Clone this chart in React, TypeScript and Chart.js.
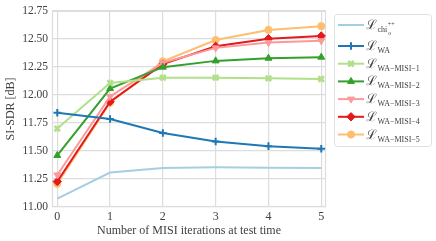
import React, { useEffect, useRef } from "react";
import { Chart, registerables } from "chart.js";
import { drawPoint } from "chart.js/helpers";

Chart.register(...registerables);

const iterations = [0, 1, 2, 3, 4, 5];
const yTicks = [11.0, 11.25, 11.5, 11.75, 12.0, 12.25, 12.5, 12.75];

const chiValues = [11.074, 11.307, 11.348, 11.354, 11.351, 11.348];
const waValues = [11.841, 11.785, 11.661, 11.584, 11.543, 11.52];
const misi1Values = [11.7, 12.107, 12.154, 12.154, 12.148, 12.142];
const misi2Values = [11.46, 12.057, 12.248, 12.304, 12.328, 12.337];
const misi3Values = [11.286, 11.986, 12.287, 12.42, 12.467, 12.484];
const misi4Values = [11.227, 11.94, 12.275, 12.434, 12.502, 12.526];
const misi5Values = [11.207, 11.93, 12.3, 12.49, 12.58, 12.614];

const legendSubs = ["chi", "WA", "WA\u2212MISI\u22121", "WA\u2212MISI\u22122", "WA\u2212MISI\u22123", "WA\u2212MISI\u22124", "WA\u2212MISI\u22125"];

const SERIF = "'Liberation Serif', 'DejaVu Serif', serif";
const TEXT = "#404040";
const GRID = "#dddddd";

type Series = { values: number[]; color: string; style: any; rotation: number; radius: number; bw: number };

const series: Series[] = [
  { values: chiValues, color: "#a6cee3", style: false, rotation: 0, radius: 0, bw: 2 },
  { values: waValues, color: "#1f78b4", style: "cross", rotation: 0, radius: 3.8, bw: 2 },
  { values: misi1Values, color: "#b2df8a", style: "crossRot", rotation: 0, radius: 3.8, bw: 2.8 },
  { values: misi2Values, color: "#33a02c", style: "triangle", rotation: 0, radius: 4, bw: 1 },
  { values: misi3Values, color: "#fb9a99", style: "triangle", rotation: 180, radius: 4, bw: 1 },
  { values: misi4Values, color: "#e31a1c", style: "rectRot", rotation: 0, radius: 4.2, bw: 1 },
  { values: misi5Values, color: "#fdbf6f", style: "circle", rotation: 0, radius: 3.6, bw: 1 },
];

const framePlugin = {
  id: "frame",
  beforeDatasetsDraw(chart: any) {
    const { ctx, chartArea: a } = chart;
    ctx.save();
    ctx.strokeStyle = GRID;
    ctx.lineWidth = 1.2;
    ctx.strokeRect(a.left + 0.5, a.top + 0.5, a.right - a.left - 1, a.bottom - a.top - 1);
    ctx.restore();
  },
};

const legendPlugin = {
  id: "customLegend",
  afterDraw(chart: any) {
    const { ctx, chartArea: a } = chart;
    const bx = a.right + 8;
    const by = 14;
    const bw = 97;
    const bh = 132;
    ctx.save();
    ctx.fillStyle = "rgba(255,255,255,0.9)";
    ctx.strokeStyle = "#e0e0e0";
    ctx.lineWidth = 1;
    ctx.beginPath();
    (ctx as any).roundRect(bx + 0.5, by + 0.5, bw, bh, 3);
    ctx.fill();
    ctx.stroke();
    chart.data.datasets.forEach((ds: any, i: number) => {
      const y = i === 0 ? 25 : 46 + (i - 1) * 17.7;
      const x1 = bx + 4;
      const x2 = bx + 30;
      ctx.strokeStyle = ds.borderColor;
      ctx.lineWidth = 2;
      ctx.beginPath();
      ctx.moveTo(x1, y);
      ctx.lineTo(x2, y);
      ctx.stroke();
      if (ds.pointStyle) {
        ctx.fillStyle = ds.pointBackgroundColor;
        ctx.strokeStyle = ds.pointBorderColor;
        ctx.lineWidth = ds.pointBorderWidth;
        drawPoint(ctx, { pointStyle: ds.pointStyle, rotation: ds.pointRotation, radius: ds.pointRadius, borderWidth: ds.pointBorderWidth }, (x1 + x2) / 2, y);
      }
      const tx = x2 + 2;
      ctx.fillStyle = TEXT;
      ctx.textBaseline = "alphabetic";
      ctx.textAlign = "left";
      ctx.font = `13px 'DejaVu Serif', serif`;
      ctx.fillText("\u2112", tx, y + 4);
      const lw = ctx.measureText("\u2112").width;
      ctx.font = `8px ${SERIF}`;
      const sub = legendSubs[i];
      ctx.fillText(sub, tx + lw + 0.5, y + 7);
      if (i === 0) {
        const sw = ctx.measureText(sub).width;
        ctx.font = `6px ${SERIF}`;
        ctx.fillText("++", tx + lw + sw + 1, y + 1);
        ctx.fillText("o", tx + lw + sw + 1.5, y + 10);
      }
    });
    ctx.restore();
  },
};

export default function App() {
  const ref = useRef<HTMLCanvasElement | null>(null);
  useEffect(() => {
    if (!ref.current) return;
    const chart = new Chart(ref.current, {
      type: "line",
      data: {
        datasets: series.map((s) => ({
          data: iterations.map((x, i) => ({ x, y: s.values[i] })),
          borderColor: s.color,
          backgroundColor: s.color,
          borderWidth: 2,
          pointStyle: s.style,
          pointRotation: s.rotation,
          pointRadius: s.radius,
          pointHoverRadius: s.radius,
          pointBorderWidth: s.bw,
          pointBackgroundColor: s.color,
          pointBorderColor: s.color,
          tension: 0,
          fill: false,
        })),
      },
      plugins: [framePlugin, legendPlugin],
      options: {
        animation: false,
        responsive: false,
        events: [],
        layout: { padding: { left: 0, right: 110, top: 9, bottom: 0 } },
        plugins: { legend: { display: false }, tooltip: { enabled: false } },
        scales: {
          x: {
            type: "linear",
            min: -0.1,
            max: 5.09,
            afterBuildTicks: (scale: any) => {
              scale.ticks = iterations.map((v) => ({ value: v }));
            },
            afterFit: (scale: any) => {
              scale.height = 34;
            },
            grid: { color: GRID, lineWidth: 1.2, drawTicks: false },
            border: { display: false },
            ticks: { color: TEXT, font: { family: SERIF, size: 12 }, padding: 3, maxRotation: 0 },
            title: { display: true, text: "Number of MISI iterations at test time", color: TEXT, font: { family: SERIF, size: 12 }, padding: { top: 0, bottom: 3 } },
          },
          y: {
            type: "linear",
            min: 11.0,
            max: 12.75,
            afterBuildTicks: (scale: any) => {
              scale.ticks = yTicks.map((v) => ({ value: v }));
            },
            afterFit: (scale: any) => {
              scale.width = 52;
            },
            grid: { color: GRID, lineWidth: 1.2, drawTicks: false },
            border: { display: false },
            ticks: { color: TEXT, font: { family: SERIF, size: 11.5 }, padding: 4, callback: (v: any) => Number(v).toFixed(2) },
            title: { display: true, text: "SI-SDR [dB]", color: TEXT, font: { family: SERIF, size: 12 }, padding: { top: 4, bottom: 0 } },
          },
        },
      },
    } as any);
    return () => chart.destroy();
  }, []);
  return (
    <div style={{ position: "fixed", left: 0, top: 0, width: 436, height: 241, background: "#fff" }}>
      <canvas ref={ref} width={436} height={241} style={{ width: 436, height: 241, display: "block" }} />
    </div>
  );
}
